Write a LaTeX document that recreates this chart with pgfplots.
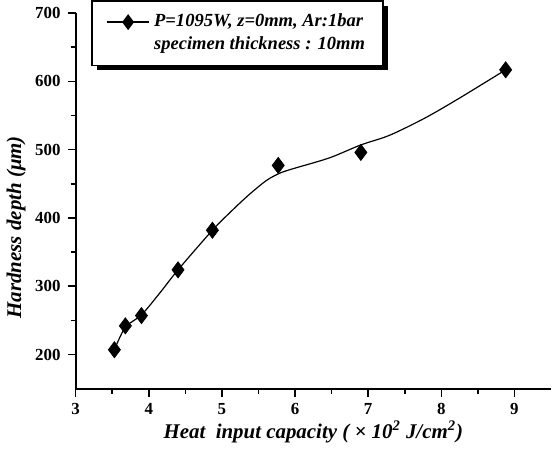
\documentclass[border=0pt]{standalone}
\usepackage{fontspec}
\setmainfont{Liberation Serif}
\usepackage{pgfplots}
\pgfplotsset{compat=1.18}
\usetikzlibrary{shadows}

\begin{document}
\begin{tikzpicture}
\begin{axis}[
  scale only axis,
  width=238bp, height=188bp,
  xmin=3, xmax=9.5, ymin=150, ymax=700,
  axis lines=left,
  axis line style={-, line width=1pt},
  xtick={3,4,...,9}, ytick={200,300,...,700},
  minor x tick num=1, minor y tick num=1,
  tick align=outside,
  major tick length=4bp, minor tick length=2.5bp,
  tick style={line width=0.8pt, black},
  /pgf/number format/assume math mode=true,
  ticklabel style={font=\bfseries\fontsize{8.5}{10}\selectfont},
  xlabel={\bfseries\itshape Heat \ input capacity ( × 10\textsuperscript{2} J/cm\textsuperscript{2})},
  ylabel={\bfseries\itshape Hardness depth (μm)},
  label style={font=\bfseries\itshape\fontsize{10.5}{12}\selectfont},
  xlabel style={yshift=4bp},
  ylabel style={at={(ticklabel cs:0.43)}, yshift=-2bp},
  clip=false,
  legend cell align=left,
  legend style={
    at={(rel axis cs:0.033,1.035)}, anchor=north west,
    draw=black, line width=0.8pt, fill=white,
    drop shadow={shadow xshift=2.5bp, shadow yshift=-2.5bp, opacity=1, fill=black},
    font=\bfseries\itshape\fontsize{9.3}{11.5}\selectfont,
    cells={align=left},
    inner xsep=7bp, inner ysep=4.5bp,
  },
  % basic-layer drawing so that the legend's shadow is not repeated here
  legend image code/.code={
    \pgfsetcolor{black}
    \pgfsetlinewidth{0.8pt}
    \pgfpathmoveto{\pgfpoint{0cm}{5.5bp}}
    \pgfpathlineto{\pgfpoint{0.75cm}{5.5bp}}
    \pgfusepath{stroke}
    \pgfpathmoveto{\pgfpoint{0.375cm}{9.5bp}}
    \pgfpathlineto{\pgfpointadd{\pgfpoint{0.375cm}{0bp}}{\pgfpoint{3bp}{5.5bp}}}
    \pgfpathlineto{\pgfpoint{0.375cm}{1.5bp}}
    \pgfpathlineto{\pgfpointadd{\pgfpoint{0.375cm}{0bp}}{\pgfpoint{-3bp}{5.5bp}}}
    \pgfpathclose
    \pgfusepath{fill}
  },
]
% fitted curve
\addplot[black, line width=0.6pt, smooth, tension=0.5, forget plot] coordinates {
  (3.53,207) (3.68,240) (3.90,258) (4.15,290) (4.40,324) (4.87,382)
  (5.13,410) (5.37,434) (5.61,455) (5.80,466) (6.00,473) (6.47,488)
  (6.90,507) (7.29,521) (7.77,546) (8.24,575) (8.88,617)
};
% measured points
\addplot[only marks, mark=diamond*, mark size=4bp, black, fill=black] coordinates {
  (3.53,207) (3.68,242) (3.90,257) (4.40,324) (4.87,382)
  (5.77,477) (6.90,496) (8.88,617)
};
\addlegendentry{P=1095W, z=0mm, Ar:1bar\\specimen thickness : 10mm}
\end{axis}
\end{tikzpicture}
\end{document}
